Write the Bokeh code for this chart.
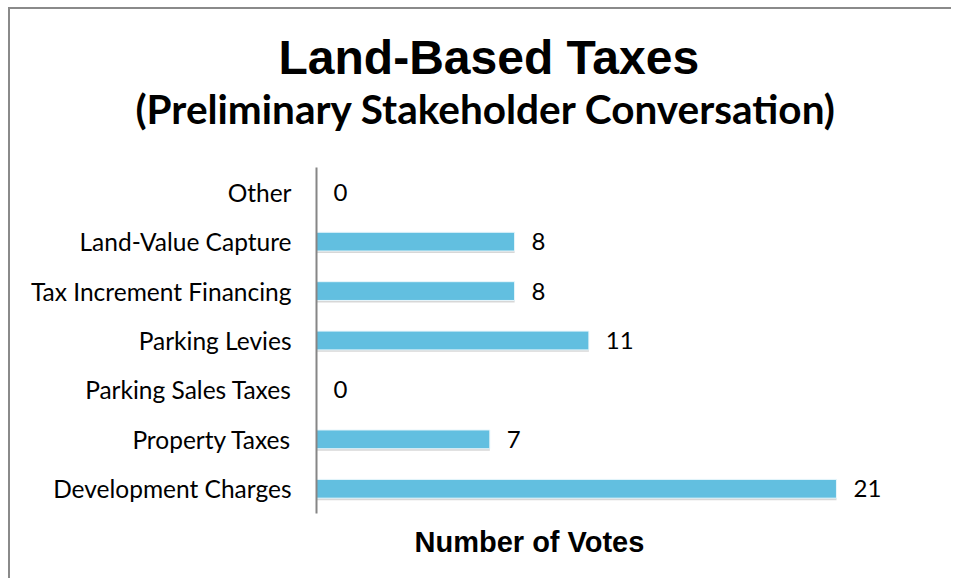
from bokeh.plotting import figure
from bokeh.models import FactorRange, Title, ColumnDataSource, FixedTicker
from bokeh.transform import dodge
from bokeh.embed import file_html
from bokeh.resources import INLINE

categories = ["Development Charges", "Property Taxes", "Parking Sales Taxes",
              "Parking Levies", "Tax Increment Financing", "Land-Value Capture", "Other"]
votes = [21, 7, 0, 11, 8, 8, 0]
labels = [str(v) for v in votes]

src = ColumnDataSource(dict(cat=categories, votes=votes, label=labels))

p = figure(width=943, height=571, output_backend="svg", toolbar_location=None,
           y_range=FactorRange(*categories), x_range=(0, 25),
           min_border_left=306, min_border_right=18, min_border_top=158,
           min_border_bottom=67, outline_line_color=None)
p.styles = {"border-top": "2px solid #8a8a8a", "border-left": "2px solid #8a8a8a",
            "margin-left": "8px", "margin-top": "7px"}

p.add_layout(Title(text="(Preliminary Stakeholder Conversation)", text_font="Lato",
                   text_font_size="40.5px", text_font_style="bold", align="left",
                   offset=-181, standoff=70, text_color="#000000"), "above")
p.add_layout(Title(text="Land-Based Taxes", text_font="Liberation Sans",
                   text_font_size="48px", text_font_style="bold", align="left",
                   offset=-38, standoff=-74, text_color="#000000"), "above")
p.add_layout(Title(text="Number of Votes", text_font="Liberation Sans",
                   text_font_size="29px", text_font_style="bold", align="left",
                   offset=98, standoff=20, text_color="#000000"), "below")

# shadow
p.hbar(y=dodge("cat", -0.04, range=p.y_range), right="votes", left=0, height=0.38,
       source=src, fill_color="#b0b0b0", fill_alpha=0.5, line_color=None)
p.hbar(y="cat", right="votes", left=0, height=0.38, source=src,
       fill_color="#62BFE0", line_color="#e8f6fb", line_width=1)
p.text(x="votes", y="cat", text="label", source=src, x_offset=17,
       text_baseline="middle", text_align="left", text_font_size="24px",
       text_font={"value": "Lato"}, text_color="#000000")

p.xgrid.visible = False
p.ygrid.visible = False

xa = p.xaxis[0]
xa.ticker = FixedTicker(ticks=[])
xa.axis_line_color = None
xa.major_tick_line_color = None
xa.minor_tick_line_color = None

ya = p.yaxis[0]
ya.axis_line_color = "#868686"
ya.axis_line_width = 2
ya.major_tick_line_color = None
ya.minor_tick_line_color = None
ya.major_label_text_font = "Lato"
ya.major_label_text_font_size = "24.5px"
ya.major_label_text_color = "#000000"
ya.major_label_standoff = 19

open("out.html", "w").write(file_html(p, INLINE))
